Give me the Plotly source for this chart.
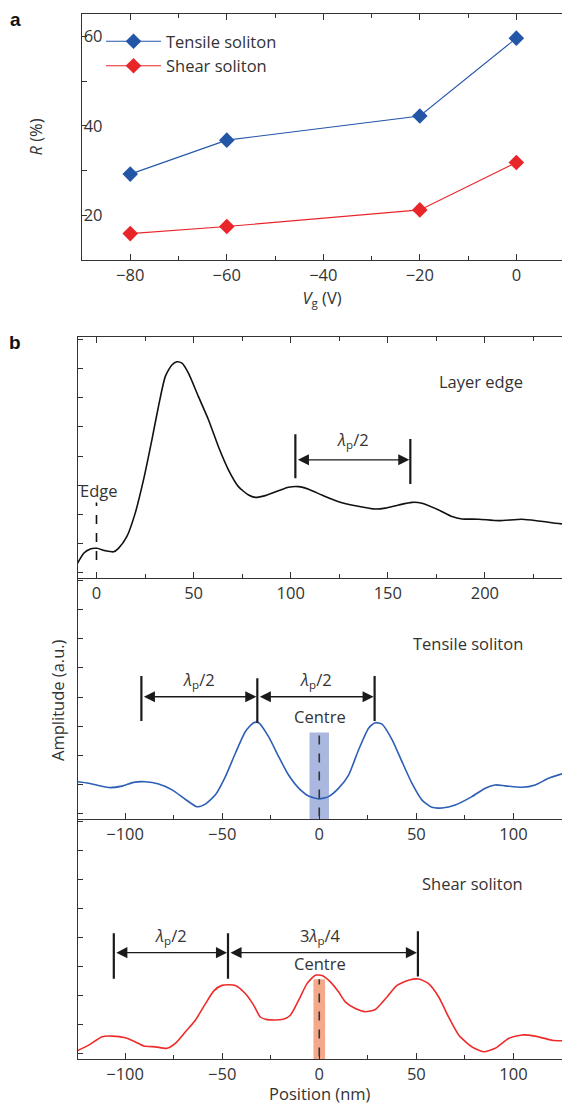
import plotly.graph_objects as go

# ---------------- data: panel a ----------------
vg = [-80, -60, -20, 0]
r_tensile = [29.2, 36.8, 42.2, 59.6]
r_shear = [15.9, 17.5, 21.2, 31.8]

# ---------------- data: panel b ----------------
edge_pos = [-9.7, -6.6, -3.2, 0.2, 4.5, 8.8, 11.3, 15.6, 19.9, 24.2, 28.5, 31.9, 35.4, 38.8,
            41.4, 44.0, 47.4, 52.5, 57.7, 62.8, 68.0, 73.1, 78.3, 81.7, 86.9, 93.7, 98.9,
            104.1, 109.2, 116.1, 124.7, 133.3, 143.6, 148.7, 155.6, 162.5, 167.6, 176.2,
            183.1, 188.2, 196.8, 207.1, 219.1, 227.7, 234.5, 239.7]
edge_amp = [0.32, 0.66, 0.81, 0.83, 0.75, 0.71, 0.83, 1.23, 2.03, 3.18, 4.55, 5.70, 6.73, 7.13,
            7.24, 7.19, 6.84, 6.04, 5.24, 4.32, 3.52, 2.95, 2.66, 2.58, 2.64, 2.81, 2.93,
            2.95, 2.86, 2.66, 2.43, 2.29, 2.18, 2.21, 2.32, 2.41, 2.38, 2.15,
            1.92, 1.84, 1.83, 1.78, 1.83, 1.77, 1.71, 1.67]

tensile_pos = [-124.4, -118.7, -108.4, -101.6, -95.6, -89.6, -82.7, -75.8, -69.0, -63.0, -58.7,
               -53.5, -48.4, -43.2, -38.1, -33.8, -31.2, -26.1, -20.9, -15.8, -10.6, -5.5, -0.3,
               4.8, 10.0, 15.1, 20.2, 25.4, 28.8, 32.3, 37.4, 42.6, 47.7, 52.9, 58.0, 63.2, 70.0,
               78.6, 85.5, 90.6, 95.8, 104.4, 111.2, 118.1, 125.0]
tensile_amp = [1.09, 1.04, 0.89, 0.94, 1.07, 1.09, 1.01, 0.81, 0.49, 0.23, 0.32,
               0.64, 1.26, 2.07, 2.81, 3.12, 3.12, 2.64, 1.95, 1.32, 0.87, 0.60, 0.50,
               0.58, 0.87, 1.32, 2.18, 2.93, 3.12, 3.07, 2.55, 1.78, 1.04, 0.46, 0.21, 0.19, 0.29,
               0.58, 0.87, 0.98, 0.95, 0.90, 0.98, 1.21, 1.36]

shear_pos = [-124.4, -118.7, -111.8, -106.7, -99.8, -94.7, -90.4, -84.4, -78.4, -74.1, -68.9,
             -63.8, -58.6, -54.3, -50.1, -43.2, -38.1, -33.8, -30.4, -26.9, -19.2, -14.9, -10.6,
             -6.3, -2.0, 1.4, 5.7, 10.0, 13.4, 18.6, 23.7, 28.9, 34.9, 40.0, 46.0, 51.2, 56.3,
             61.5, 66.6, 71.8, 78.6, 84.6, 90.6, 97.5, 104.4, 111.2, 119.8, 125.0]
shear_amp = [0.10, 0.29, 0.58, 0.60, 0.54, 0.40, 0.26, 0.23, 0.18, 0.35, 0.75,
             1.15, 1.72, 2.16, 2.35, 2.35, 2.07, 1.67, 1.26, 1.17, 1.17, 1.32, 1.84,
             2.41, 2.70, 2.69, 2.47, 2.12, 1.78, 1.55, 1.44, 1.52, 1.95, 2.35, 2.53, 2.57, 2.41,
             1.95, 1.26, 0.64, 0.23, 0.06, 0.18, 0.52, 0.64, 0.60, 0.46, 0.44]

# bracket marks (positions in nm, vertical extents in a.u.)
edge_marks = [102.4, 161.6]
edge_marks_lo = [3.24, 3.04]
edge_marks_hi = [4.75, 4.59]
edge_arrow_y = 3.87
edge_label_y = 4.55

tensile_marks = [-91.6, -31.9, 28.5]
tensile_marks_lo = [3.18, 3.12, 3.18]
tensile_marks_hi = [4.72, 4.65, 4.72]
tensile_arrow_y = 4.01
tensile_label_y = 4.59

shear_marks = [-105.8, -47.0, 50.8]
shear_marks_lo = [2.58, 2.58, 2.66]
shear_marks_hi = [4.15, 4.15, 4.22]
shear_arrow_y = 3.48
shear_label_y = 4.05

edge_line = [0.0, 0.43, 2.40]        # x, y0, y1 of "Edge" dashed marker
tensile_band = [-5.0, 5.0, 2.78]      # x0, x1, top of band
shear_band = [-3.0, 3.0, 2.56]

FONT = "Open Sans"
TXT = "#333333"
AX = "#333333"
W, H = 562, 1105
BLUE_A = "#2456a8"
RED_A = "#e8262a"
BLUE_B = "#2d5fb5"
RED_B = "#ee2b2b"
FS = 16.5

fig = go.Figure()

# ---------- panel a ----------
fig.add_trace(go.Scatter(x=vg, y=r_tensile, mode="lines+markers", name="Tensile soliton",
                         line=dict(color=BLUE_A, width=1.1),
                         marker=dict(symbol="diamond", size=12, color=BLUE_A),
                         xaxis="x", yaxis="y"))
fig.add_trace(go.Scatter(x=vg, y=r_shear, mode="lines+markers", name="Shear soliton",
                         line=dict(color=RED_A, width=1.1),
                         marker=dict(symbol="diamond", size=12, color=RED_A),
                         xaxis="x", yaxis="y"))

# ---------- panel b ----------
fig.add_trace(go.Scatter(x=edge_pos, y=edge_amp, mode="lines", showlegend=False,
                         line=dict(color="#111111", width=1.6, shape="spline", smoothing=0.6),
                         xaxis="x2", yaxis="y2"))
fig.add_trace(go.Scatter(x=tensile_pos, y=tensile_amp, mode="lines", showlegend=False,
                         line=dict(color=BLUE_B, width=1.6, shape="spline", smoothing=0.6),
                         xaxis="x3", yaxis="y3"))
fig.add_trace(go.Scatter(x=shear_pos, y=shear_amp, mode="lines", showlegend=False,
                         line=dict(color=RED_B, width=1.6, shape="spline", smoothing=0.6),
                         xaxis="x4", yaxis="y4"))

shapes = []
annotations = []

def px2paper_y(py):
    return 1 - py / H

# bands and centre lines
shapes.append(dict(type="rect", xref="x3", yref="y3", x0=tensile_band[0], x1=tensile_band[1],
                   y0=-0.2, y1=tensile_band[2], fillcolor="#aab8e0", line=dict(width=0),
                   layer="below"))
shapes.append(dict(type="line", xref="x3", yref="y3", x0=0, x1=0, y0=-0.1, y1=tensile_band[2],
                   line=dict(color="#333333", width=1.6, dash="dash")))
shapes.append(dict(type="rect", xref="x4", yref="y4", x0=shear_band[0], x1=shear_band[1],
                   y0=-0.2, y1=shear_band[2], fillcolor="#f4a98a", line=dict(width=0),
                   layer="below"))
shapes.append(dict(type="line", xref="x4", yref="y4", x0=0, x1=0, y0=-0.1, y1=shear_band[2],
                   line=dict(color="#333333", width=1.6, dash="dash")))
shapes.append(dict(type="line", xref="x2", yref="y2", x0=edge_line[0], x1=edge_line[0],
                   y0=edge_line[1], y1=edge_line[2],
                   line=dict(color="#111111", width=1.6, dash="dash")))


def add_brackets(xr, yr, marks, lo, hi, arrow_y):
    for m, a, b in zip(marks, lo, hi):
        shapes.append(dict(type="line", xref=xr, yref=yr, x0=m, x1=m, y0=a, y1=b,
                           line=dict(color="#1a1a1a", width=2.2)))
    for m0, m1 in zip(marks[:-1], marks[1:]):
        annotations.append(dict(x=m1, y=arrow_y, ax=m0, ay=arrow_y, xref=xr, yref=yr,
                                axref=xr, ayref=yr, text="", showarrow=True,
                                arrowhead=2, startarrowhead=2, arrowside="end+start",
                                arrowsize=1.7, startarrowsize=1.7, arrowwidth=1.3,
                                arrowcolor="#1a1a1a", standoff=1, startstandoff=1))


add_brackets("x2", "y2", edge_marks, edge_marks_lo, edge_marks_hi, edge_arrow_y)
add_brackets("x3", "y3", tensile_marks, tensile_marks_lo, tensile_marks_hi, tensile_arrow_y)
add_brackets("x4", "y4", shear_marks, shear_marks_lo, shear_marks_hi, shear_arrow_y)

LAM2 = "<i>λ</i><sub>p</sub>/2"
LAM34 = "3<i>λ</i><sub>p</sub>/4"

def txt(x, y, s, xr, yr, xanchor="center", size=FS):
    annotations.append(dict(x=x, y=y, xref=xr, yref=yr, text=s, showarrow=False,
                            xanchor=xanchor, yanchor="middle",
                            font=dict(family=FONT, size=size, color=TXT)))

txt((edge_marks[0] + edge_marks[1]) / 2, edge_label_y, LAM2, "x2", "y2")
txt(1.1, 2.81, "Edge", "x2", "y2")
txt(220.8, 6.56, "Layer edge", "x2", "y2", xanchor="right")

txt((tensile_marks[0] + tensile_marks[1]) / 2, tensile_label_y, LAM2, "x3", "y3")
txt((tensile_marks[1] + tensile_marks[2]) / 2, tensile_label_y, LAM2, "x3", "y3")
txt(0.5, 3.33, "Centre", "x3", "y3")
txt(105.9, 5.85, "Tensile soliton", "x3", "y3", xanchor="right")

txt((shear_marks[0] + shear_marks[1]) / 2, shear_label_y, LAM2, "x4", "y4")
txt(0.4, 4.07, LAM34, "x4", "y4")
txt(0.4, 3.10, "Centre", "x4", "y4")
txt(105.9, 5.87, "Shear soliton", "x4", "y4", xanchor="right")

# panel letters
annotations.append(dict(x=15 / W, y=px2paper_y(19), xref="paper", yref="paper", text="<b>a</b>",
                        showarrow=False, xanchor="center", yanchor="middle",
                        font=dict(family="Liberation Sans", size=19, color="#111111")))
annotations.append(dict(x=15 / W, y=px2paper_y(342), xref="paper", yref="paper", text="<b>b</b>",
                        showarrow=False, xanchor="center", yanchor="middle",
                        font=dict(family="Liberation Sans", size=19, color="#111111")))
# shared y title of panel b
annotations.append(dict(x=57 / W, y=px2paper_y(700), xref="paper", yref="paper",
                        text="Amplitude (a.u.)", textangle=-90, showarrow=False,
                        xanchor="center", yanchor="middle",
                        font=dict(family=FONT, size=FS, color=TXT)))

tickfont = dict(family=FONT, size=FS, color=TXT)

def xax(domain, rng, dtick, minor, mirror=False, anchor="y", title=None, labels=True):
    d = dict(domain=domain, range=rng, anchor=anchor, showgrid=False, zeroline=False,
             showline=True, linecolor=AX, linewidth=1.3, ticks="inside", ticklen=6,
             tickwidth=1.2, tickcolor=AX, dtick=dtick, tick0=0, tickfont=tickfont,
             showticklabels=labels,
             minor=dict(ticks="inside", ticklen=4, dtick=minor, tickcolor=AX, tickwidth=1.2,
                        showgrid=False),
             mirror="ticks" if mirror else False)
    if title:
        d["title"] = title
    return d

def yax(domain, rng, anchor, labels=False, title=None, minor=None, **kw):
    d = dict(domain=domain, range=rng, anchor=anchor, showgrid=False, zeroline=False,
             showline=True, linecolor=AX, linewidth=1.3, ticks="inside", ticklen=5,
             tickwidth=1.2, tickcolor=AX, tickfont=tickfont, showticklabels=labels)
    if minor:
        d["minor"] = dict(ticks="inside", ticklen=5, dtick=minor, tickcolor=AX, tickwidth=1.2,
                          showgrid=False)
    d.update(kw)
    if title:
        d["title"] = title
    return d

fig.update_layout(
    width=W, height=H,
    margin=dict(l=0, r=0, t=0, b=0),
    paper_bgcolor="white", plot_bgcolor="white",
    font=dict(family=FONT, size=FS, color=TXT),
    showlegend=True,
    legend=dict(x=101 / W, y=px2paper_y(24), xanchor="left", yanchor="top",
                bgcolor="rgba(0,0,0,0)", font=dict(family=FONT, size=FS, color=TXT),
                itemwidth=55, tracegroupgap=0),
    xaxis=xax([82 / W, 1], [-90, 9.46], 20, 10, mirror=True, anchor="y",
              title=dict(text="<i>V</i><sub>g</sub> (V)", standoff=6,
                         font=dict(family=FONT, size=FS, color=TXT))),
    yaxis=yax([px2paper_y(260), px2paper_y(14)], [10, 65], "x", labels=True,
              dtick=20, tick0=0, minor=10, ticklabelstandoff=-25,
              title=dict(text="<i>R</i> (%)", standoff=36,
                         font=dict(family=FONT, size=FS, color=TXT))),
    xaxis2=xax([77.5 / W, 1], [-9.78, 239.7], 50, 25, mirror=True, anchor="y2"),
    yaxis2=yax([px2paper_y(578.3), px2paper_y(337.3)], [-0.2, 8.08], "x2", dtick=1, tick0=0),
    xaxis3=xax([77.5 / W, 1], [-124.5, 125.0], 50, 25, anchor="y3"),
    yaxis3=yax([px2paper_y(819.3), px2paper_y(578.3)], [-0.2, 8.08], "x3", dtick=1, tick0=0),
    xaxis4=xax([77.5 / W, 1], [-124.5, 125.0], 50, 25, anchor="y4",
               title=dict(text="Position (nm)", standoff=5,
                          font=dict(family=FONT, size=FS, color=TXT))),
    yaxis4=yax([px2paper_y(1059.3), px2paper_y(819.3)], [-0.2, 8.08], "x4", dtick=1, tick0=0),
    shapes=shapes,
    annotations=annotations,
)

fig.write_html("out.html", config={"displayModeBar": False},
               post_script="document.body.style.margin='0px';document.body.style.overflow='hidden';")
